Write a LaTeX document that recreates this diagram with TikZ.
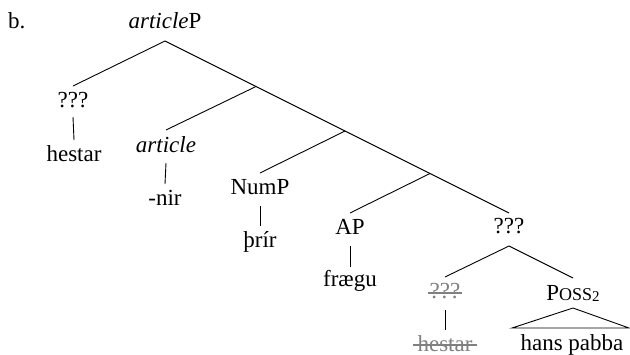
\documentclass[tikz,border=0pt]{standalone}
\usepackage{fontspec}
\setmainfont{Liberation Serif}
\begin{document}
\begin{tikzpicture}[x=1pt,y=-1pt,
  lbl/.style={anchor=base,inner sep=0pt,font=\fontsize{23}{26}\selectfont},
  struck/.style={lbl,text=gray},
  edge/.style={line width=0.9pt,black},
  strike/.style={line width=1.1pt,gray}]
\useasboundingbox (0,0) rectangle (630,354);
\node[lbl,anchor=base west] (tag) at (8,28) {b.};
\node[lbl] (root) at (165,28) {\textit{article}P};
\node[lbl] (q1) at (73,107) {???};
\node[lbl] (h1) at (74,161) {hestar};
\node[lbl] (art) at (166,152) {\textit{article}};
\node[lbl] (nir) at (165,205) {-nir};
\node[lbl] (nump) at (260,194) {NumP};
\node[lbl] (thrir) at (260,247) {þrír};
\node[lbl] (ap) at (350,234) {AP};
\node[lbl] (fraegu) at (350,286) {frægu};
\node[lbl] (q2) at (509,233) {???};
\node[struck] (q3) at (445,298) {???};
\node[struck] (h2) at (445,351) {hestar};
\node[lbl] (poss) at (573,300) {P{\fontsize{18}{20}\selectfont OSS}{\fontsize{15}{16}\selectfont\raisebox{-1.5pt}{2}}};
\node[lbl] (hp) at (572,350) {hans pabba};
\coordinate (n1) at (256,86.5);
\coordinate (n2) at (345,131);
\coordinate (n3) at (430,173.5);
\coordinate (tl) at (512,328);
\coordinate (tr) at (629,328);
% spine
\draw[edge] ([yshift=-13pt]root.base) -- (n1) -- (n2) -- (n3) -- ([yshift=20pt]q2.base);
% left branches
\draw[edge] ([yshift=-13pt]root.base) -- ([yshift=21pt]q1.base);
\draw[edge] (n1) -- ([yshift=22pt]art.base);
\draw[edge] (n2) -- ([yshift=21pt]nump.base);
\draw[edge] (n3) -- ([yshift=21pt]ap.base);
% lower branches
\draw[edge] ([yshift=21pt]q3.base) -- ([yshift=-13pt]q2.base) -- ([yshift=22pt]poss.base);
% unary
\draw[edge] ([yshift=-10pt]q1.base) -- ([yshift=21pt]h1.base);
\draw[edge] ([yshift=-11pt]art.base) -- ([yshift=21pt]nir.base);
\draw[edge] ([yshift=-12pt]nump.base) -- ([yshift=21pt]thrir.base);
\draw[edge] ([yshift=-12pt]ap.base) -- ([yshift=19pt]fraegu.base);
\draw[edge] ([yshift=-12pt]q3.base) -- ([yshift=21pt]h2.base);
% triangle
\draw[edge] (tl) -- ([yshift=-8pt]poss.base) -- (tr) -- cycle;
% strikes
\draw[strike] ([xshift=-1pt,yshift=5pt]q3.base west) -- ([xshift=1pt,yshift=5pt]q3.base east);
\draw[strike] ([xshift=-4pt,yshift=6pt]h2.base west) -- ([xshift=4pt,yshift=6pt]h2.base east);
\end{tikzpicture}
\end{document}
